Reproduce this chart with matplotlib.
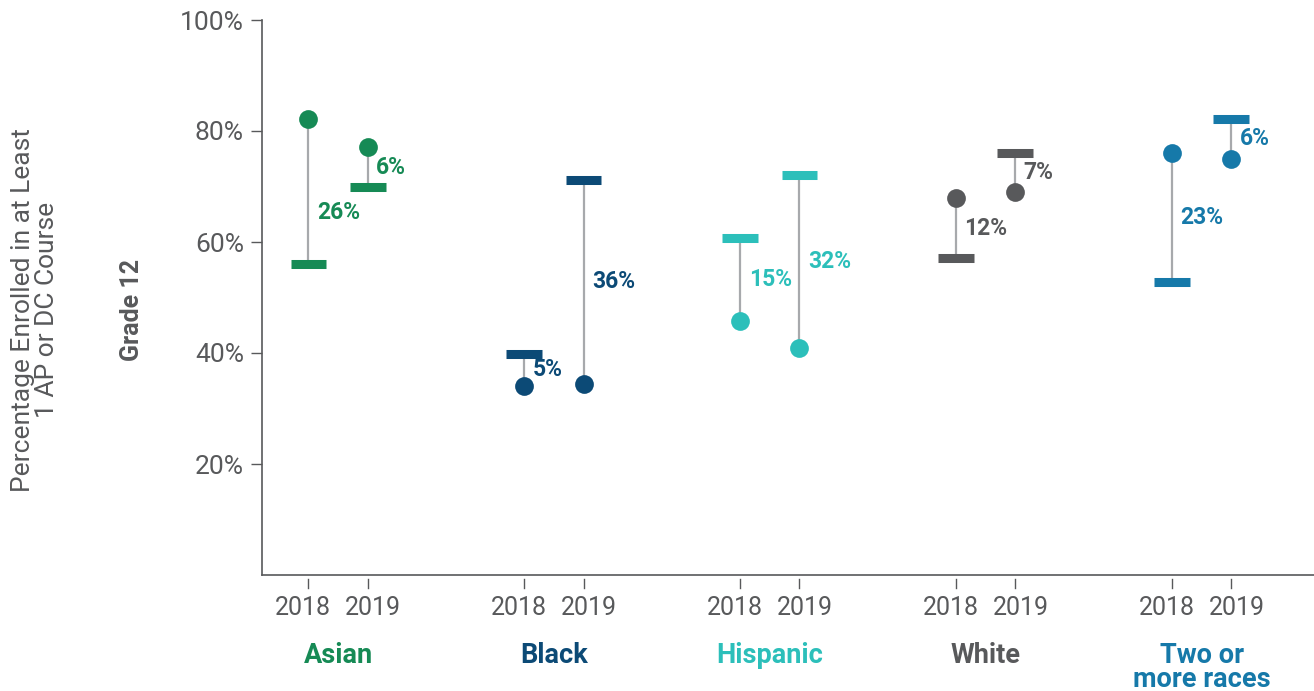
import matplotlib.pyplot as plt
import numpy as np

# data (percent)
groups = ["Asian", "Black", "Hispanic", "White", "Two or\nmore races"]
years = ["2018", "2019"]
dot_2018 = [82.2, 34.1, 45.8, 67.9, 76.0]
bar_2018 = [56.0, 39.8, 60.7, 57.1, 52.8]
dot_2019 = [77.1, 34.4, 40.9, 69.0, 75.0]
bar_2019 = [69.9, 71.2, 72.1, 76.0, 82.2]
gap_2018 = ["26%", "5%", "15%", "12%", "23%"]
gap_2019 = ["6%", "36%", "32%", "7%", "6%"]
y_ticks = [20, 40, 60, 80, 100]

colors = ["#168a55", "#0c4a76", "#2cbfba", "#58595b", "#1679a9"]
gray = "#58595b"
stem = "#a7a9ac"
plt.rcParams['font.family'] = ['Roboto', 'DejaVu Sans']

fig = plt.figure(figsize=(13.14, 6.91), dpi=100)
ax = fig.add_axes([262 / 1314, 1 - 575 / 691, 1 - 262 / 1314, 555 / 691])

off = 0.137
half = 0.083
# nudge for the label that sits lower than the stem midpoint
nudge = {(0, 0): -3.8}

for i in range(len(groups)):
    c = colors[i]
    for j, (dots, bars, gaps) in enumerate([(dot_2018, bar_2018, gap_2018),
                                             (dot_2019, bar_2019, gap_2019)]):
        x = i + (-off if j == 0 else off)
        d, b = dots[i], bars[i]
        ax.plot([x, x], [d, b], color=stem, lw=1.6, zorder=1, solid_capstyle='butt')
        ax.hlines(b, x - half, x + half, color=c, lw=6.5, zorder=2)
        ax.plot(x, d, 'o', color=c, ms=13.5, mec='none', zorder=3)
        ym = (d + b) / 2 + nudge.get((i, j), 0)
        ax.annotate(gaps[i], (x, ym), xytext=(6, 0), textcoords='offset points',
                    ha='left', va='center', color=c, fontsize=16.5, fontweight='bold')

ax.set_xlim(-0.352, 4.52)
ax.set_ylim(0, 100)
ax.set_yticks(y_ticks)
ax.set_yticklabels([f"{t}%" for t in y_ticks])
ax.tick_params(axis='y', length=8, width=1, color=gray, labelcolor=gray,
               labelsize=19, pad=5)

# x ticks sit a little below the axis line, so draw them by hand
xs = [i + s for i in range(len(groups)) for s in (-off, off)]
ax.set_xticks([])
trans = ax.get_xaxis_transform()
for k, x in enumerate(xs):
    ax.plot([x, x], [-0.008, -0.024], color=gray, lw=1, transform=trans, clip_on=False)
    ax.annotate(years[k % 2], (x, -0.06), xycoords=trans,
                xytext=(-4 if k % 2 == 0 else 4, 0), textcoords='offset points',
                ha='center', va='center', fontsize=18, color=gray)
for i, g in enumerate(groups):
    ax.text(i, -0.121, g, transform=trans, ha='center', va='top', fontsize=19.5,
            fontweight='bold', color=colors[i], linespacing=0.85)

for s in ['top', 'right']:
    ax.spines[s].set_visible(False)
for s in ['left', 'bottom']:
    ax.spines[s].set_color(gray)
    ax.spines[s].set_linewidth(1.2)

fig.text(35 / 1314, 1 - 310 / 691, "Percentage Enrolled in at Least\n1 AP or DC Course",
         rotation=90, ha='center', va='center', fontsize=19, color=gray, linespacing=1.05)
fig.text(132 / 1314, 1 - 310 / 691, "Grade 12", rotation=90, ha='center', va='center',
         fontsize=18, fontweight='bold', color=gray)

fig.savefig("out.png", dpi=100)
